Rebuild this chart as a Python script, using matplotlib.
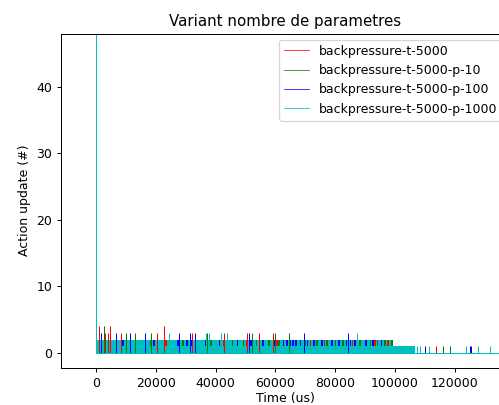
import matplotlib
matplotlib.use("Agg")
import matplotlib.pyplot as plt
from matplotlib.lines import Line2D

labels = ["backpressure-t-5000", "backpressure-t-5000-p-10",
          "backpressure-t-5000-p-100", "backpressure-t-5000-p-1000"]
colors = ["r", "g", "b", "c"]

# Peaks of each run: time (us) and action updates (#)
red_t = [1000, 3000, 4000, 4700, 8400, 20300, 22800, 32100, 42800, 50500,
         54500, 59200, 113700]
red_v = [4, 3, 3, 4, 3, 3, 4, 3, 3, 3, 3, 3, 1]

green_t = [2700, 10000, 13000, 18400, 37100, 52200, 59900, 64500, 116000, 118400]
green_v = [4, 3, 3, 3, 3, 3, 3, 3, 1, 1]

blue_t = [0, 1700, 6700, 11400, 16400, 27800, 31400, 33100, 51200, 69400,
          84400, 110000, 125100, 125500]
blue_v = [4, 3, 3, 3, 3, 3, 3, 3, 3, 3, 3, 1, 1, 1]

cyan_t = [0, 24400, 36800, 37800, 41800, 43800, 87300, 107300, 108500,
          111400, 123700, 127700, 131800]
cyan_v = [48, 3, 3, 3, 3, 3, 3, 1, 1, 1, 1, 1, 1]

# Stretches (us) where a run sits at 2 updates while p-1000 sits at 1
red_mid = [(23200, 23600), (42400, 42800), (50300, 50700), (60300, 60800),
           (71500, 72000), (76200, 76700), (85500, 86000), (93000, 93500),
           (97400, 97900)]
green_mid = [(18200, 18700), (28900, 29400), (38200, 38700), (45400, 45900),
             (49100, 49600), (53500, 54000), (57600, 58100), (61000, 61500),
             (69700, 70200), (73700, 74200), (77000, 77500), (79900, 80400),
             (82300, 82800), (88100, 88700), (91500, 92000), (93900, 94400),
             (96400, 96900), (98700, 99200)]
blue_mid = [(8700, 9200), (19100, 19600), (27200, 27700), (30200, 30700),
            (31600, 32100), (36300, 36700), (41000, 41400), (43800, 44300),
            (47000, 47500), (51600, 52100), (55600, 56100), (59500, 59900),
            (62400, 63000), (63600, 64200), (64700, 65300), (65500, 66200),
            (66400, 67200), (68100, 68700), (70500, 71000), (72700, 73300),
            (75300, 75800), (78600, 79200), (81000, 81600), (83500, 84000),
            (84800, 85300), (86300, 86800), (90000, 90600), (92300, 92800),
            (95200, 95800)]

# Steady band of the p-1000 run: (start us, end us, updates)
cyan_band = [(0, 99300, 2), (99300, 106700, 1)]
cyan_end = 137000

dpi = 90
fig = plt.figure(figsize=(499 / dpi, 405 / dpi), dpi=dpi)
ax = fig.add_axes([61 / 499, 37 / 405, 448 / 499, 334.5 / 405])

lw = 0.8
series = [(red_t, red_v, red_mid, "r"), (green_t, green_v, green_mid, "g"),
          (blue_t, blue_v, blue_mid, "b")]
for t, v, mid, col in series:
    for s, e in mid:
        ax.fill_between([s, e], 0, 2, color=col, lw=0)
    ax.vlines(t, 0, v, color=col, lw=lw)

# p-1000 band, dropping to 1 wherever another run shows at 2
gaps = sorted(red_mid + green_mid + blue_mid)
xs, ys = [], []
for s0, e0, lev in cyan_band:
    cur = s0
    if lev == 2:
        for s, e in gaps:
            if s0 <= s < e0:
                xs += [cur, s, s, e]
                ys += [2, 2, 1, 1]
                cur = e
    xs += [cur, e0]
    ys += [lev, lev]
ax.fill_between(xs, 0, ys, color="c", lw=0)
ax.plot([0, cyan_end], [0, 0], color="c", lw=lw)
ax.vlines(cyan_t, 0, cyan_v, color="c", lw=lw)

ax.set_xlim(-11700, 138100)
ax.set_ylim(-2.28, 48)
ax.set_xticks([0, 20000, 40000, 60000, 80000, 100000, 120000])
ax.set_yticks([0, 10, 20, 30, 40])
ax.set_title("Variant nombre de parametres", fontsize=12)
ax.set_xlabel("Time (us)", labelpad=1.5)
ax.set_ylabel("Action update (#)")

handles = [Line2D([], [], color=c, lw=0.6) for c in colors]
ax.legend(handles, labels, loc="upper right")

fig.savefig("out.png", dpi=dpi)
